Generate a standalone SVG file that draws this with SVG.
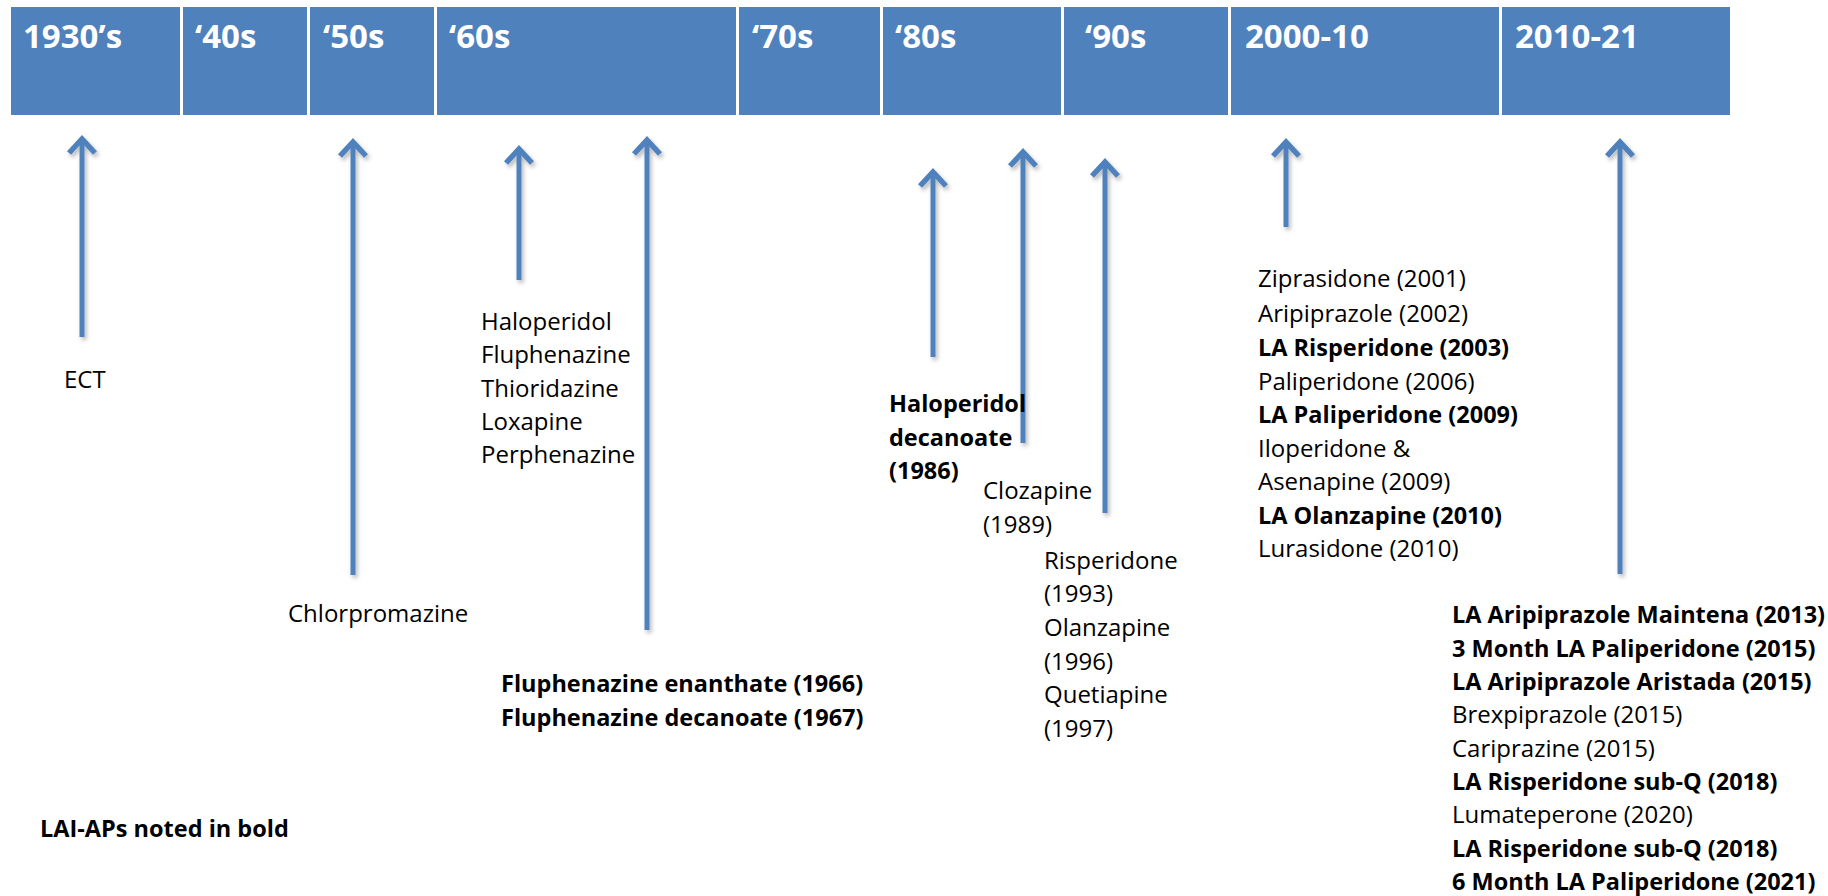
<svg xmlns="http://www.w3.org/2000/svg" width="1828" height="896" viewBox="0 0 1828 896">
<style>
.hdr{fill:#4F81BD;stroke:#ffffff;stroke-width:2}
.htxt{font-family:"Open Sans","Liberation Sans",sans-serif;font-weight:bold;font-size:33px;fill:#ffffff}
.t{font-family:"Open Sans","Liberation Sans",sans-serif;font-size:24px;fill:#000000}
.b{font-family:"Open Sans","Liberation Sans",sans-serif;font-size:23.5px;font-weight:bold;fill:#000000}
.arr{stroke:#4F81BD;stroke-width:5;fill:none;marker-end:url(#head)}
</style>
<defs>
<marker id="head" viewBox="-20 -16 26 32" markerWidth="26" markerHeight="32" refX="0" refY="0" orient="auto" markerUnits="userSpaceOnUse" overflow="visible">
<path d="M-14,-13 L0,0 L-14,13" fill="none" stroke="#4F81BD" stroke-width="5.5" stroke-linejoin="miter"/>
</marker>
<filter id="sh" x="-50%" y="-10%" width="200%" height="120%">
<feDropShadow dx="2" dy="3" stdDeviation="2" flood-color="#000000" flood-opacity="0.28"/>
</filter>
</defs>
<rect width="1828" height="896" fill="#ffffff"/>

<g id="header">
<g id="h1930"><rect class="hdr" x="10" y="6" width="171" height="110"/><text class="htxt" x="23" y="48">1930’s</text></g>
<g id="h40"><rect class="hdr" x="182" y="6" width="126" height="110"/><text class="htxt" x="195" y="48">‘40s</text></g>
<g id="h50"><rect class="hdr" x="309" y="6" width="126" height="110"/><text class="htxt" x="323" y="48">‘50s</text></g>
<g id="h60"><rect class="hdr" x="436" y="6" width="301" height="110"/><text class="htxt" x="449" y="48">‘60s</text></g>
<g id="h70"><rect class="hdr" x="738" y="6" width="143" height="110"/><text class="htxt" x="752" y="48">‘70s</text></g>
<g id="h80"><rect class="hdr" x="882" y="6" width="180" height="110"/><text class="htxt" x="895" y="48">‘80s</text></g>
<g id="h90"><rect class="hdr" x="1063" y="6" width="166" height="110"/><text class="htxt" x="1085" y="48">‘90s</text></g>
<g id="h2000"><rect class="hdr" x="1230" y="6" width="270" height="110"/><text class="htxt" x="1245" y="48">2000-10</text></g>
<g id="h2010"><rect class="hdr" x="1501" y="6" width="230" height="110"/><text class="htxt" x="1515" y="48">2010-21</text></g>
</g>

<g id="connectors" filter="url(#sh)">
<line class="arr" x1="82" y1="337" x2="82" y2="139"/>
<line class="arr" x1="353" y1="575" x2="353" y2="142"/>
<line class="arr" x1="519" y1="280" x2="519" y2="149"/>
<line class="arr" x1="647" y1="630" x2="647" y2="140"/>
<line class="arr" x1="933" y1="357" x2="933" y2="172"/>
<line class="arr" x1="1023" y1="443" x2="1023" y2="152"/>
<line class="arr" x1="1105" y1="513" x2="1105" y2="162"/>
<line class="arr" x1="1286" y1="227" x2="1286" y2="142"/>
<line class="arr" x1="1620" y1="574" x2="1620" y2="142"/>
</g>

<g id="ect"><text class="t" x="64" y="388">ECT</text></g>
<g id="chlorpromazine"><text class="t" x="288" y="622">Chlorpromazine</text></g>
<g id="typicals60s"><text class="t" x="481">
<tspan x="481" y="330">Haloperidol</tspan>
<tspan x="481" y="363">Fluphenazine</tspan>
<tspan x="481" y="397">Thioridazine</tspan>
<tspan x="481" y="430">Loxapine</tspan>
<tspan x="481" y="463">Perphenazine</tspan>
</text></g>
<g id="fluphenazine-lai"><text class="b">
<tspan x="501" y="692">Fluphenazine enanthate (1966)</tspan>
<tspan x="501" y="726">Fluphenazine decanoate (1967)</tspan>
</text></g>
<g id="haloperidol-dec"><text class="b">
<tspan x="889" y="412">Haloperidol</tspan>
<tspan x="889" y="446">decanoate</tspan>
<tspan x="889" y="479">(1986)</tspan>
</text></g>
<g id="clozapine"><text class="t">
<tspan x="983" y="499">Clozapine</tspan>
<tspan x="983" y="533">(1989)</tspan>
</text></g>
<g id="atypicals90s"><text class="t">
<tspan x="1044" y="569">Risperidone</tspan>
<tspan x="1044" y="602">(1993)</tspan>
<tspan x="1044" y="636">Olanzapine</tspan>
<tspan x="1044" y="670">(1996)</tspan>
<tspan x="1044" y="703">Quetiapine</tspan>
<tspan x="1044" y="737">(1997)</tspan>
</text></g>
<g id="list2000">
<text class="t" x="1258" y="287">Ziprasidone (2001)</text>
<text class="t" x="1258" y="322">Aripiprazole (2002)</text>
<text class="b" x="1258" y="356">LA Risperidone (2003)</text>
<text class="t" x="1258" y="390">Paliperidone (2006)</text>
<text class="b" x="1258" y="423">LA Paliperidone (2009)</text>
<text class="t" x="1258" y="457">Iloperidone &amp;</text>
<text class="t" x="1258" y="490">Asenapine (2009)</text>
<text class="b" x="1258" y="524">LA Olanzapine (2010)</text>
<text class="t" x="1258" y="557">Lurasidone (2010)</text>
</g>
<g id="list2010">
<text class="b" x="1452" y="623">LA Aripiprazole Maintena (2013)</text>
<text class="b" x="1452" y="657">3 Month LA Paliperidone (2015)</text>
<text class="b" x="1452" y="690">LA Aripiprazole Aristada (2015)</text>
<text class="t" x="1452" y="723">Brexpiprazole (2015)</text>
<text class="t" x="1452" y="757">Cariprazine (2015)</text>
<text class="b" x="1452" y="790">LA Risperidone sub-Q (2018)</text>
<text class="t" x="1452" y="823">Lumateperone (2020)</text>
<text class="b" x="1452" y="857">LA Risperidone sub-Q (2018)</text>
<text class="b" x="1452" y="890">6 Month LA Paliperidone (2021)</text>
</g>
<g id="legend"><text class="b" x="40" y="837">LAI-APs noted in bold</text></g>
</svg>
